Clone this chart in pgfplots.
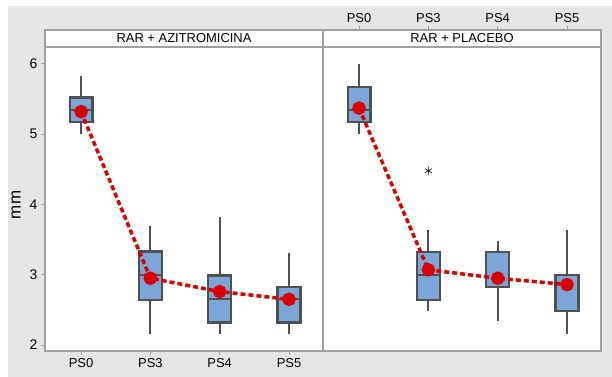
\documentclass[border=0pt]{standalone}
\usepackage{pgfplots}
\pgfplotsset{compat=1.18}
\usepgfplotslibrary{statistics}
\usepackage{fontspec}
\setmainfont{Liberation Sans}
\definecolor{bggray}{HTML}{E6E6E6}
\definecolor{framegray}{HTML}{A0A0A0}
\definecolor{boxblue}{HTML}{7BA6DA}
\definecolor{boxedge}{HTML}{505050}
\definecolor{meanred}{HTML}{DD0000}
\pgfplotsset{
  panel/.style={
    scale only axis, width=278bp, height=321bp,
    xmin=-0.52, xmax=3.49, ymin=1.915, ymax=6.481,
    axis background/.style={fill=white},
    axis line style={framegray, line width=1.2bp},
    tick style={framegray, line width=1bp},
    tick align=outside, major tick length=4bp,
    xtick={0,1,2,3}, xticklabels={PS0,PS3,PS4,PS5},
    x tick label style={font=\fontsize{13}{15}\selectfont},
    y tick label style={font=\fontsize{14}{16}\selectfont},
    clip=false,
    boxplot/every whisker/.style={line width=2bp, draw=boxedge},
    boxplot/every median/.style={line width=2bp, draw=boxedge},
    boxplot/every box/.style={line width=2.2bp, draw=boxedge, fill=boxblue},
  },
  bx/.style 2 args={boxplot prepared={draw position=#1, #2, box extend=0.33, whisker extend=0, draw direction=y},
     fill=boxblue, draw=boxedge, line width=2bp, solid, mark=none},
  meanline/.style={meanred, line width=3.5bp, dash pattern=on 5bp off 3bp,
     mark=*, mark size=5bp, mark options={solid, fill=meanred, draw=meanred}},
}
\begin{document}
\begin{tikzpicture}
\fill[white] (0bp,0bp) rectangle (612bp,377bp);
\fill[bggray] (8bp,0bp) rectangle (612bp,371bp);
% left panel
\begin{axis}[panel, at={(45bp,26bp)}, anchor=south west,
  xtick pos=bottom, ytick pos=left,
  ytick={2,3,4,5,6}, yticklabels={2,3,4,5,6},
  ylabel={mm}, ylabel style={at={(rel axis cs:-0.104,0.455)}, anchor=center, font=\fontsize{17}{19}\selectfont}]
\addplot[bx={0}{lower whisker=5.0, lower quartile=5.17, median=5.35, upper quartile=5.52, upper whisker=5.82}] coordinates {};
\addplot[bx={1}{lower whisker=2.15, lower quartile=2.64, median=3.0, upper quartile=3.33, upper whisker=3.70}] coordinates {};
\addplot[bx={2}{lower whisker=2.15, lower quartile=2.32, median=2.65, upper quartile=2.99, upper whisker=3.82}] coordinates {};
\addplot[bx={3}{lower whisker=2.15, lower quartile=2.32, median=2.65, upper quartile=2.83, upper whisker=3.31}] coordinates {};
\addplot[meanline] coordinates {(0,5.32) (1,2.95) (2,2.76) (3,2.65)};
\draw[framegray, line width=1.2bp, fill=white] (rel axis cs:0,0.947) rectangle (rel axis cs:1,1);
\node[font=\fontsize{13}{15}\selectfont] at (rel axis cs:0.5,0.9735) {RAR + AZITROMICINA};
\end{axis}
% right panel
\begin{axis}[panel, at={(323bp,26bp)}, anchor=south west,
  xtick pos=top, ytick=\empty]
\addplot[bx={0}{lower whisker=5.0, lower quartile=5.17, median=5.35, upper quartile=5.67, upper whisker=6.0}] coordinates {};
\addplot[bx={1}{lower whisker=2.49, lower quartile=2.64, median=3.0, upper quartile=3.32, upper whisker=3.64}] coordinates {};
\addplot[bx={2}{lower whisker=2.34, lower quartile=2.82, median=2.82, upper quartile=3.32, upper whisker=3.48}] coordinates {};
\addplot[bx={3}{lower whisker=2.15, lower quartile=2.48, median=3.0, upper quartile=3.0, upper whisker=3.64}] coordinates {};
\addplot[only marks, mark=asterisk, mark size=4bp, black, line width=0.6bp] coordinates {(1,4.48)};
\addplot[meanline] coordinates {(0,5.37) (1,3.07) (2,2.95) (3,2.86)};
\draw[framegray, line width=1.2bp, fill=white] (rel axis cs:0,0.947) rectangle (rel axis cs:1,1);
\node[font=\fontsize{13}{15}\selectfont] at (rel axis cs:0.5,0.9735) {RAR + PLACEBO};
\end{axis}
\end{tikzpicture}
\end{document}
